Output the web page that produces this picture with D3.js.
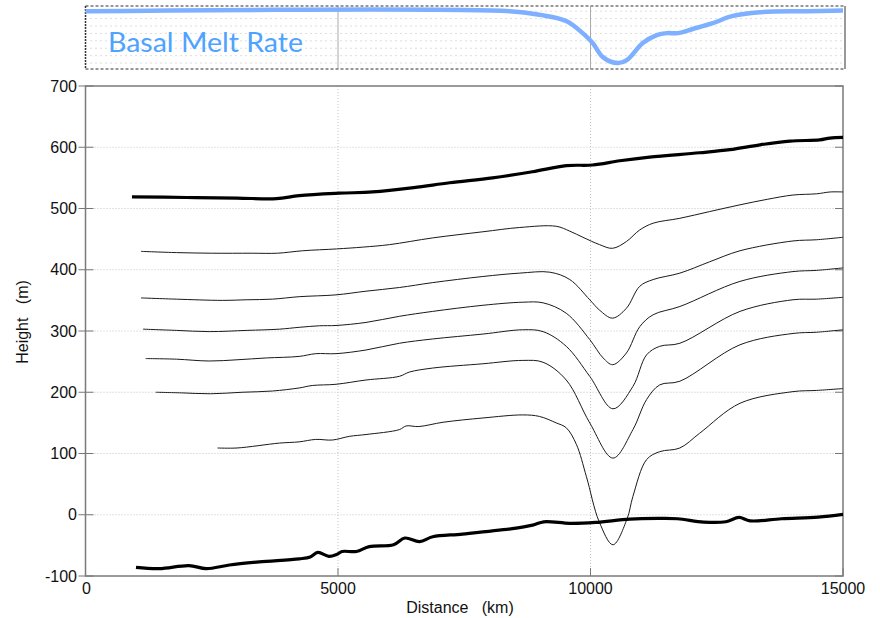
<!DOCTYPE html>
<html>
<head>
<meta charset="utf-8">
<script src="https://cdn.jsdelivr.net/npm/d3@7"></script>
<style>
  body { margin: 0; background: #fff; }
  svg { display: block; }
</style>
</head>
<body>
<div id="chart"></div>
<script>
// distances in km, heights in m
const xTicks = [0, 5000, 10000, 15000];
const yTicks = [-100, 0, 100, 200, 300, 400, 500, 600, 700];

const iceSurface = [[920,519],[2000,518],[3000,517],[3780,516],[4230,521],[5025,525],[5685,527],[6500,534],[7210,542],[8060,550],[8850,560],[9525,570],[10040,571],[10580,578],[11170,584],[12160,591],[12760,596],[13355,604],[13950,610],[14540,612],[14740,615],[15000,616]];

const bed = [[1000,-86],[1460,-88],[2050,-83],[2390,-88],[2850,-82],[3440,-77],[4230,-72],[4450,-69],[4600,-61.5],[4820,-68],[4970,-65],[5080,-60],[5365,-60],[5620,-52],[6100,-49],[6325,-38],[6615,-44],[6875,-36],[7465,-31.5],[8420,-23],[8855,-17],[9075,-11.5],[9590,-14],[10100,-12.5],[10780,-7],[11355,-6],[11725,-6.5],[12240,-12],[12680,-11.4],[12940,-4.4],[13160,-10],[13780,-6.5],[14510,-3.8],[15000,0.5]];

const line1 = [[1100,430],[1800,428],[2500,427],[3300,427],[3800,427],[4300,431],[4970,434],[5500,437],[6020,441],[6875,452],[7870,462],[8600,469],[9320,471],[9590,463],[9850,453],[10180,441],[10435,435],[10710,446],[10975,465],[11240,476],[11770,484],[12360,495],[12960,506],[13500,515],[14010,522],[14480,524],[14745,527],[15000,527]];
const line2 = [[1100,354],[1800,352],[2710,350],[3200,351],[3700,352],[4230,356],[4960,359],[5555,365],[6215,371],[6875,379],[7870,389],[8600,394.5],[9195,396],[9590,384],[9985,351],[10180,334],[10435,321],[10710,337],[10975,373],[11240,384],[11770,394.5],[12360,413],[12960,431],[14010,447],[14480,449],[15000,453]];
const line3 = [[1140,303],[1800,301],[2450,299],[3200,301],[3840,303],[4230,306],[4630,308.5],[4960,309],[5555,314],[6215,324],[6875,332],[7870,342],[8660,347],[9060,346],[9520,329],[9985,286],[10250,256],[10440,245],[10710,264],[10975,307],[11240,326.5],[11770,340],[12960,381],[14010,397],[14480,399],[15000,403]];
const line4 = [[1190,255],[1800,254],[2450,251],[3000,253],[3580,256],[4230,258.5],[4560,263],[4960,263],[5555,269],[6215,280],[6875,287],[7870,295],[8660,302],[9060,299],[9520,275],[9985,226],[10445,173],[10840,209.5],[11110,261],[11370,275],[11770,280],[12960,332],[14010,351],[14480,352],[15000,355]];
const line5 = [[1390,200],[1900,199],[2480,197.5],[3100,200],[3700,202],[4230,207],[4490,211],[4960,213],[5555,220],[6215,226],[6415,233],[6875,239.5],[7870,246.5],[8660,252],[9060,249],[9520,220],[9985,150],[10445,92.5],[10840,139],[11110,188],[11370,212],[11770,218],[12960,277.5],[14010,296],[14480,298],[15000,302]];
const line6 = [[2615,109],[3000,109],[3840,117],[4230,119],[4560,123],[4890,122],[5225,128],[5555,131],[6215,139],[6350,145],[6600,144],[7080,151],[7870,158],[8660,163],[8990,160.5],[9320,150],[9520,142],[9720,115],[9920,62],[10170,-11],[10445,-49],[10725,-6.5],[10840,30],[11110,90],[11370,103],[11770,109],[12160,133],[12960,182],[14010,201],[14480,203],[15000,206]];

// basal melt rate (relative units, 0 = no melt)
const meltTicks = [0, -1, -2, -3, -4, -5, -6, -7];
const meltRate = [[0,0],[8400,0],[9000,-0.5],[9527,-1.35],[9845,-2.96],[10043,-4.3],[10245,-6.2],[10540,-7.0],[10718,-6.6],[11035,-4.3],[11312,-3.23],[11510,-2.96],[11728,-2.96],[12025,-2.4],[12422,-1.62],[12798,-0.67],[13354,-0.13],[14286,0],[15000,0.1]];

const W = 880, H = 618;
const svg = d3.select('#chart').append('svg').attr('width', W).attr('height', H);

const x = d3.scaleLinear().domain([0, 15000]).range([85.5, 843]);
const y = d3.scaleLinear().domain([-100, 700]).range([576, 86]);
const ym = d3.scaleLinear().domain([-7.8, 0.7]).range([69, 6]);

const font = 'Liberation Sans, Arial, Helvetica, sans-serif';

// ---- top panel: basal melt rate ----
const meltPanel = svg.append('g');
meltPanel.selectAll('.mgrid').data(meltTicks).enter().append('line')
  .attr('x1', x(0)).attr('x2', x(15000) + 2)
  .attr('y1', d => ym(d)).attr('y2', d => ym(d))
  .attr('stroke', '#bbb').attr('stroke-dasharray', '1,4');
meltPanel.selectAll('.mvgrid').data([5000, 10000]).enter().append('line')
  .attr('x1', d => x(d)).attr('x2', d => x(d))
  .attr('y1', ym(0.7)).attr('y2', ym(-7.8))
  .attr('stroke', '#aaa');
meltPanel.append('line').attr('x1', x(0)).attr('x2', x(15000) + 2).attr('y1', ym(0.7)).attr('y2', ym(0.7))
  .attr('stroke', '#777').attr('stroke-width', 1.5).attr('stroke-dasharray', '3,2');
meltPanel.append('line').attr('x1', x(0)).attr('x2', x(15000) + 2).attr('y1', ym(-7.8)).attr('y2', ym(-7.8))
  .attr('stroke', '#777').attr('stroke-width', 1.5).attr('stroke-dasharray', '3,2');
meltPanel.append('line').attr('x1', x(0)).attr('x2', x(0)).attr('y1', ym(0.7)).attr('y2', ym(-7.8))
  .attr('stroke', '#333').attr('stroke-width', 1.5).attr('stroke-dasharray', '2,1');
meltPanel.append('line').attr('x1', x(15000) + 2).attr('x2', x(15000) + 2).attr('y1', ym(0.7)).attr('y2', ym(-7.8))
  .attr('stroke', '#555').attr('stroke-width', 1.2);

const meltLine = d3.line().x(d => x(d[0])).y(d => ym(d[1])).curve(d3.curveCatmullRom);
meltPanel.append('path').datum(meltRate)
  .attr('d', meltLine)
  .attr('fill', 'none')
  .attr('stroke', '#7eb0ff')
  .attr('stroke-width', 4.5);

meltPanel.append('text')
  .attr('x', 108).attr('y', 52)
  .attr('font-family', 'Lato, "Open Sans", sans-serif')
  .attr('font-size', 26)
  .attr('textLength', 195)
  .attr('lengthAdjust', 'spacingAndGlyphs')
  .attr('fill', '#4da3ff')
  .text('Basal Melt Rate');

// ---- main panel ----
const g = svg.append('g');

g.selectAll('.ygrid').data(yTicks.slice(1, -1)).enter().append('line')
  .attr('x1', x(0)).attr('x2', x(15000))
  .attr('y1', d => y(d)).attr('y2', d => y(d))
  .attr('stroke', '#c4c4c4').attr('stroke-dasharray', '1,2');
g.selectAll('.xgrid').data(xTicks.slice(1, -1)).enter().append('line')
  .attr('x1', d => x(d)).attr('x2', d => x(d))
  .attr('y1', y(700)).attr('y2', y(-100))
  .attr('stroke', '#c4c4c4').attr('stroke-dasharray', '1,2');

// tick marks
g.selectAll('.ytl').data(yTicks).enter().append('line')
  .attr('x1', x(0) - 7).attr('x2', x(0) + 8)
  .attr('y1', d => y(d)).attr('y2', d => y(d))
  .attr('stroke', '#777');
g.selectAll('.ytr').data(yTicks).enter().append('line')
  .attr('x1', x(15000) - 8).attr('x2', x(15000))
  .attr('y1', d => y(d)).attr('y2', d => y(d))
  .attr('stroke', '#777');
g.selectAll('.xtb').data(xTicks).enter().append('line')
  .attr('x1', d => x(d)).attr('x2', d => x(d))
  .attr('y1', y(-100)).attr('y2', y(-100) - 8)
  .attr('stroke', '#777');

// frame
g.append('rect')
  .attr('x', x(0)).attr('y', y(700))
  .attr('width', x(15000) - x(0)).attr('height', y(-100) - y(700))
  .attr('fill', 'none').attr('stroke', '#7a7a7a').attr('stroke-width', 1.5);

// tick labels
g.selectAll('.ylab').data(yTicks).enter().append('text')
  .attr('x', 77).attr('y', d => y(d)).attr('dy', '0.35em')
  .attr('text-anchor', 'end')
  .attr('font-family', font).attr('font-size', 16)
  .attr('fill', '#111')
  .text(d => d);
g.selectAll('.xlab').data(xTicks).enter().append('text')
  .attr('x', d => x(d) + (d === 0 ? 1 : 0)).attr('y', 594)
  .attr('text-anchor', 'middle')
  .attr('font-family', font).attr('font-size', 16)
  .attr('fill', '#111')
  .text(d => d);

// axis titles
g.append('text')
  .attr('x', 460).attr('y', 613)
  .attr('text-anchor', 'middle')
  .attr('font-family', font).attr('font-size', 16)
  .attr('fill', '#111')
  .attr('xml:space', 'preserve')
  .text('Distance   (km)');
g.append('text')
  .attr('transform', 'translate(28,322) rotate(-90)')
  .attr('text-anchor', 'middle')
  .attr('font-family', font).attr('font-size', 16)
  .attr('fill', '#111')
  .attr('xml:space', 'preserve')
  .text('Height   (m)');

// data lines
const line = d3.line().x(d => x(d[0])).y(d => y(d[1])).curve(d3.curveCatmullRom);

const thin = [line1, line2, line3, line4, line5, line6];
g.selectAll('.thin').data(thin).enter().append('path')
  .attr('d', line)
  .attr('fill', 'none')
  .attr('stroke', '#1a1a1a')
  .attr('stroke-width', 1);

[iceSurface, bed].forEach(s => {
  g.append('path').datum(s)
    .attr('d', line)
    .attr('fill', 'none')
    .attr('stroke', '#000')
    .attr('stroke-width', 3.2)
    .attr('stroke-linejoin', 'round');
});
</script>
</body>
</html>
